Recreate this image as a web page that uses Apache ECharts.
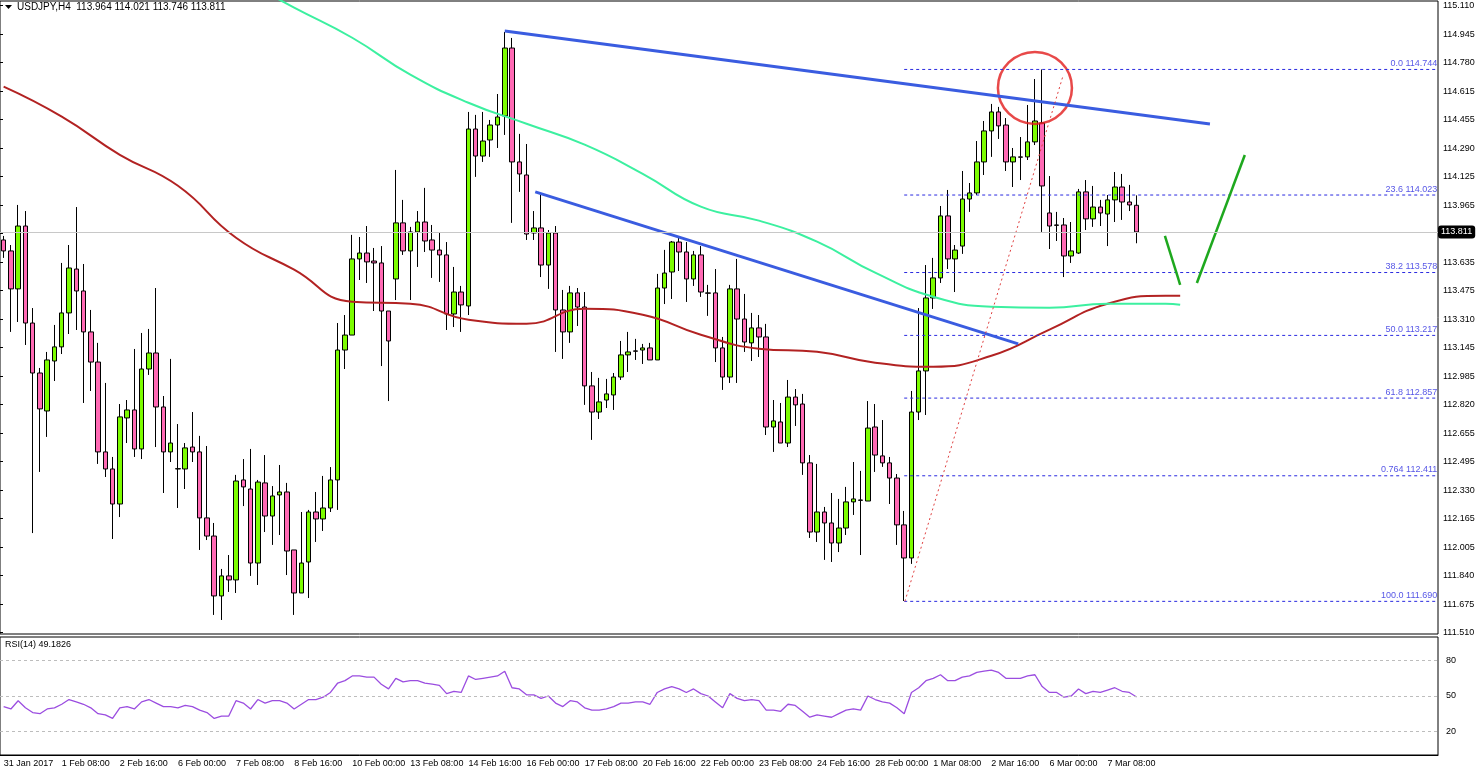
<!DOCTYPE html>
<html>
<head>
<meta charset="utf-8">
<script src="https://cdn.jsdelivr.net/npm/echarts@6/dist/echarts.min.js"></script>
<style>
  html, body { margin: 0; padding: 0; background: #fff; }
  #chart { width: 1480px; height: 772px; }
</style>
</head>
<body>
<div id="chart"></div>
<script>
// USDJPY H4 candles (157 bars)
var opens = [113.765,113.702,113.484,113.845,113.288,113.001,112.783,113.070,113.151,113.346,
113.598,113.472,113.237,113.064,112.548,112.450,112.249,112.743,112.789,112.565,
113.024,113.116,112.806,112.548,112.450,112.450,112.576,112.548,112.169,112.065,
111.721,111.836,111.813,112.387,112.335,111.910,112.370,112.180,112.301,112.318,
111.985,111.738,111.916,112.203,112.163,112.226,112.387,113.133,113.219,113.656,
113.690,113.644,113.633,113.357,113.541,113.863,113.702,113.811,113.868,113.765,
113.707,113.679,113.340,113.466,113.386,114.402,114.247,114.339,114.425,114.477,
114.867,114.213,114.138,113.805,113.834,113.621,113.805,113.363,113.237,113.461,
113.380,112.927,112.777,112.846,112.875,112.978,113.105,113.128,113.133,113.145,
113.076,113.489,113.581,113.753,113.696,113.541,113.679,113.461,113.461,113.145,
112.978,113.484,113.311,113.174,113.260,113.208,112.691,112.720,112.599,112.863,
112.823,112.485,112.088,112.203,112.140,112.025,112.111,112.261,112.272,112.266,
112.691,112.525,112.485,112.398,112.129,111.939,112.777,113.013,113.432,113.547,
113.903,113.656,113.730,114.000,114.035,114.213,114.391,114.500,114.425,114.213,
114.242,114.242,114.328,114.437,113.920,113.851,113.851,113.673,113.690,114.041,
113.886,113.954,113.914,113.995,114.069,113.983,113.964];
var closes = [113.702,113.484,113.845,113.288,113.001,112.795,113.076,113.151,113.346,113.604,
113.472,113.237,113.064,112.548,112.450,112.249,112.749,112.789,112.565,113.024,
113.116,112.806,112.548,112.599,112.452,112.571,112.548,112.169,112.065,111.721,
111.836,111.813,112.381,112.347,111.910,112.375,112.180,112.295,112.318,111.979,
111.738,111.910,112.203,112.163,112.226,112.387,113.133,113.219,113.656,113.690,
113.639,113.633,113.357,113.185,113.863,113.702,113.811,113.868,113.759,113.707,
113.679,113.340,113.466,113.392,114.402,114.247,114.333,114.425,114.471,114.867,
114.213,114.144,113.799,113.834,113.621,113.805,113.363,113.237,113.461,113.380,
112.927,112.777,112.835,112.881,112.978,113.105,113.122,113.126,113.145,113.076,
113.489,113.575,113.753,113.696,113.541,113.679,113.466,113.459,113.145,112.978,
113.484,113.311,113.179,113.260,113.208,112.691,112.726,112.599,112.863,112.818,
112.485,112.088,112.203,112.140,112.025,112.111,112.261,112.278,112.270,112.685,
112.530,112.485,112.398,112.129,111.939,112.777,113.013,113.432,113.547,113.903,
113.656,113.707,114.000,114.035,114.213,114.391,114.500,114.420,114.213,114.242,
114.240,114.328,114.448,114.075,113.845,113.849,113.673,113.702,114.041,113.886,
113.954,113.920,113.995,114.069,113.983,113.966,113.811];
var lows = [113.662,113.237,113.294,113.162,112.082,112.433,112.634,112.955,113.110,113.225,
113.248,112.829,112.898,112.479,112.404,112.048,112.174,112.599,112.519,112.507,
112.990,112.576,112.312,112.490,112.226,112.335,112.490,111.985,112.042,111.612,
111.583,111.744,111.738,112.237,111.836,111.784,112.088,112.014,112.071,111.841,
111.612,111.738,111.709,112.031,112.094,112.203,112.215,113.024,113.219,113.535,
113.518,113.357,113.041,112.840,113.420,113.679,113.420,113.610,113.696,113.547,
113.524,113.248,113.265,113.237,113.334,114.127,114.213,114.242,114.293,114.368,
113.863,114.041,113.765,113.765,113.552,113.484,113.122,113.082,113.174,113.271,
112.818,112.617,112.737,112.800,112.789,112.961,113.007,113.076,113.053,113.076,
113.076,113.397,113.426,113.587,113.409,113.501,113.438,113.329,113.064,112.904,
112.944,112.944,113.122,113.070,113.093,112.645,112.548,112.599,112.576,112.697,
112.416,112.054,112.031,111.928,111.916,111.973,112.071,112.186,111.956,112.266,
112.433,112.462,112.249,112.014,111.692,111.905,112.731,112.760,113.369,113.518,
113.598,113.466,113.685,113.926,114.023,114.138,114.242,114.345,114.161,114.069,
114.109,114.224,114.310,113.811,113.713,113.759,113.552,113.633,113.685,113.822,
113.840,113.845,113.730,113.868,113.880,113.931,113.746];
var highs = [113.788,113.736,113.966,113.931,113.374,113.030,113.122,113.277,113.633,113.736,
113.954,113.627,113.363,113.174,112.944,112.519,112.823,112.846,113.139,113.231,
113.254,113.489,112.869,113.082,112.708,112.599,112.777,112.640,112.582,112.140,
111.876,111.956,112.416,112.507,112.565,112.387,112.530,112.352,112.473,112.370,
111.985,112.203,112.215,112.318,112.410,112.461,113.288,113.334,113.794,113.782,
113.845,113.719,113.730,113.357,114.167,113.995,113.840,113.931,114.064,113.851,
113.805,113.753,113.610,113.501,114.500,114.483,114.500,114.454,114.603,114.959,
114.925,114.374,114.316,113.931,114.023,113.822,113.845,113.478,113.501,113.489,
113.466,113.007,112.973,112.967,113.001,113.185,113.237,113.197,113.168,113.174,
113.570,113.708,113.759,113.782,113.753,113.702,113.730,113.507,113.598,113.208,
113.507,113.656,113.455,113.346,113.334,113.283,112.846,112.829,112.961,112.909,
112.881,112.530,112.479,112.232,112.312,112.278,112.347,112.490,112.439,112.840,
112.823,112.731,112.519,112.421,112.209,112.898,113.374,113.621,113.662,113.960,
114.052,113.736,114.161,114.092,114.333,114.448,114.546,114.529,114.465,114.293,
114.356,114.540,114.689,114.744,114.132,113.926,113.891,113.868,114.058,114.109,
114.075,113.995,114.023,114.155,114.144,114.081,114.021];

var rsi = [41,39,46,40,36,35,39,40,43,47, 45,43,40,35,34,31,40,41,39,45,
47,44,41,41,40,42,41,38,36,31, 33,33,46,44,39,47,44,46,46,44,
39,43,47,47,49,53,61,63,67,67, 66,66,60,56,65,62,63,63,61,60,
59,52,54,53,67,64,65,66,67,71, 57,56,51,51,48,50,44,41,46,45,
40,38,38,39,41,44,44,45,45,43, 53,56,58,56,53,56,52,50,45,40,
52,48,46,47,46,38,38,37,43,42, 37,32,34,33,32,35,38,39,38,50,
47,45,44,40,35,53,57,63,65,68, 63,63,66,67,70,71,72,70,65,65,
65,67,68,58,53,53,49,50,56,52, 54,53,55,57,54,53,49.18];

// moving averages sampled every 8 bars: [bar, price]
var maSlow = [[0,114.645],[8,114.473],[16,114.254],[24,114.076],[32,113.778],[40,113.594],
[48,113.410],[56,113.399],[64,113.307],[72,113.284],[80,113.370],[88,113.336],[96,113.221],
[104,113.141],[112,113.123],[120,113.060],[128,113.037],[136,113.100],[144,113.250],
[152,113.399],[160,113.445],[162,113.445]];
var maFast = [[36,115.19],[40,115.099],[48,114.926],[56,114.714],[64,114.553],[72,114.432],
[80,114.312],[88,114.145],[96,113.956],[104,113.876],[112,113.755],[120,113.577],
[128,113.439],[136,113.382],[144,113.376],[152,113.399],[160,113.399],[162,113.393]];

// drawn objects: [bar, price]
var trendUpper = [[69.0,114.965],[166.1,114.431]];
var trendLower = [[73.2,114.041],[139.7,113.168]];
var fibBase = [[124.1,111.690],[145.9,114.712]];
var arrowDown = [[159.9,113.788],[162.0,113.507]];
var arrowUp = [[164.3,113.518],[170.9,114.253]];
var circleMark = [142.0,114.638];
var fibLevels = [114.744,114.023,113.578,113.217,112.857,112.411,111.690];
var fibNames = ['0.0','23.6','38.2','50.0','61.8','0.764','100.0'];

var priceTicks = ['111.510','111.675','111.840','112.005','112.165','112.330','112.495','112.655',
'112.820','112.985','113.145','113.310','113.475','113.635','113.800','113.965','114.125',
'114.290','114.455','114.615','114.780','114.945','115.110'];
var dateLabels = ['31 Jan 2017','1 Feb 08:00','2 Feb 16:00','6 Feb 00:00','7 Feb 08:00','8 Feb 16:00',
'10 Feb 00:00','13 Feb 08:00','14 Feb 16:00','16 Feb 00:00','17 Feb 08:00','20 Feb 16:00',
'22 Feb 00:00','23 Feb 08:00','24 Feb 16:00','28 Feb 00:00','1 Mar 08:00','2 Mar 16:00',
'6 Mar 00:00','7 Mar 08:00'];
var lastClose = 113.811;

var N = 198;
var cats = [];
for (var i = 0; i < N; i++) {
    cats.push(i % 8 === 0 && dateLabels[i / 8] ? dateLabels[i / 8] : '');
}
var candles = opens.map(function (o, i) { return [o, closes[i], lows[i], highs[i]]; });

var FONT = 'Liberation Sans';
var FIB = '#2a2ae0';
var txt = { fontFamily: FONT, fontSize: 9, color: '#000' };

var fibSeries = fibLevels.map(function (v) {
    return {
        type: 'line', xAxisIndex: 1, yAxisIndex: 0, symbol: 'none', silent: true,
        lineStyle: { color: FIB, width: 1, type: [3, 3] },
        data: [[124, v], [N - 0.6, v]]
    };
});
fibSeries.push({
    type: 'scatter', xAxisIndex: 1, yAxisIndex: 0, symbolSize: 0, silent: true,
    data: fibLevels.map(function (v) { return [N - 0.6, v]; }),
    label: { show: true, position: 'left', distance: 0, offset: [0, -6],
        fontFamily: FONT, fontSize: 9, color: FIB,
        formatter: function (p) { return fibNames[p.dataIndex] + ' ' + p.value[1].toFixed(3); } }
});

function seg(data, color, width, type) {
    return { type: 'line', xAxisIndex: 1, yAxisIndex: 0, symbol: 'none', silent: true,
        lineStyle: { color: color, width: width, type: type || 'solid' }, data: data };
}

var chart = echarts.init(document.getElementById('chart'));
chart.setOption({
    animation: false,
    backgroundColor: '#fff',
    grid: [
        { left: 0, top: 1, width: 1438, height: 633, show: true, borderColor: '#000', borderWidth: 1 },
        { left: 0, top: 5.7, width: 1438, height: 627 },
        { left: 0, top: 637, width: 1438, height: 118, show: true, borderColor: '#000', borderWidth: 1 }
    ],
    xAxis: [
        { type: 'category', gridIndex: 0, data: cats, show: false },
        { type: 'value', gridIndex: 0, min: -0.5, max: N - 0.5, show: false },
        { type: 'value', gridIndex: 1, min: 0, max: 1, show: false },
        { type: 'category', gridIndex: 2, data: cats, position: 'bottom',
          axisLine: { lineStyle: { color: '#000' } },
          axisTick: { alignWithLabel: true, length: 4, interval: function (i) { return i % 8 === 0; }, lineStyle: { color: '#000' } },
          axisLabel: Object.assign({ interval: 0, align: 'left', margin: 4 }, txt) }
    ],
    yAxis: [
        { type: 'value', gridIndex: 0, min: 111.5025, max: 115.137, position: 'right', scale: true,
          axisLine: { show: false }, axisTick: { show: false }, axisLabel: { show: false }, splitLine: { show: false },
          axisPointer: { show: true, value: lastClose, status: 'show', triggerTooltip: false,
              lineStyle: { color: '#c8c8c8', width: 1, type: 'solid' },
              label: { show: true, backgroundColor: '#000', color: '#fff', fontFamily: FONT, fontSize: 9,
                  padding: [2, 3], margin: 0, formatter: function (p) { return p.value.toFixed(3); } } } },
        { type: 'value', gridIndex: 1, min: 0, max: 22, interval: 1, position: 'right',
          axisLine: { show: false }, splitLine: { show: false },
          axisTick: { show: true, length: 3, inside: false, lineStyle: { color: '#000' } },
          axisLabel: Object.assign({ margin: 5, formatter: function (v) { return priceTicks[Math.round(v)]; } }, txt) },
        { type: 'value', gridIndex: 2, min: 0, max: 100, interval: 10, position: 'right',
          axisLine: { show: false }, splitLine: { show: false }, axisTick: { show: false },
          axisLabel: Object.assign({ margin: 8, formatter: function (v) { return (v === 20 || v === 50 || v === 80) ? v : ''; } }, txt) }
    ],
    series: [
        { type: 'line', xAxisIndex: 1, yAxisIndex: 0, data: maSlow, smooth: true, symbol: 'none', silent: true,
          lineStyle: { color: '#b22222', width: 2 } },
        { type: 'line', xAxisIndex: 1, yAxisIndex: 0, data: maFast, smooth: true, symbol: 'none', silent: true,
          lineStyle: { color: '#3cf0a0', width: 2 } }
    ].concat(fibSeries).concat([
        { type: 'candlestick', xAxisIndex: 0, yAxisIndex: 0, data: candles, barWidth: 5, silent: true,
          itemStyle: { color: '#7cfc00', color0: '#ff69b4', borderColor: '#000', borderColor0: '#000', borderWidth: 1 } },
        seg(trendUpper, '#3a5ce0', 3),
        seg(trendLower, '#3a5ce0', 3),
        seg(fibBase, '#e04040', 1, [2, 3]),
        seg(arrowDown, '#1ea81e', 2.5),
        seg(arrowUp, '#1ea81e', 2.5),
        { type: 'scatter', xAxisIndex: 1, yAxisIndex: 0, data: [circleMark], symbol: 'circle', symbolSize: [74, 72],
          silent: true, itemStyle: { color: 'rgba(0,0,0,0)', borderColor: '#e21b1b', borderWidth: 2.5 } },
        { type: 'line', xAxisIndex: 3, yAxisIndex: 2, data: rsi, symbol: 'none', silent: true,
          lineStyle: { color: '#9b4de0', width: 1.3 },
          markLine: { silent: true, symbol: 'none', label: { show: false },
              lineStyle: { color: '#bdbdbd', type: [3, 3], width: 1 },
              data: [{ yAxis: 20 }, { yAxis: 50 }, { yAxis: 80 }] } }
    ]),
    graphic: [
        { type: 'polygon', shape: { points: [[5, 5], [12, 5], [8.5, 9]] }, style: { fill: '#000' } },
        { type: 'text', left: 17, top: 2, style: { text: 'USDJPY,H4  113.964 114.021 113.746 113.811', font: '10px ' + FONT, fill: '#000' } },
        { type: 'text', left: 5, top: 640, style: { text: 'RSI(14) 49.1826', font: '9px ' + FONT, fill: '#000' } }
    ]
});
</script>
</body>
</html>
